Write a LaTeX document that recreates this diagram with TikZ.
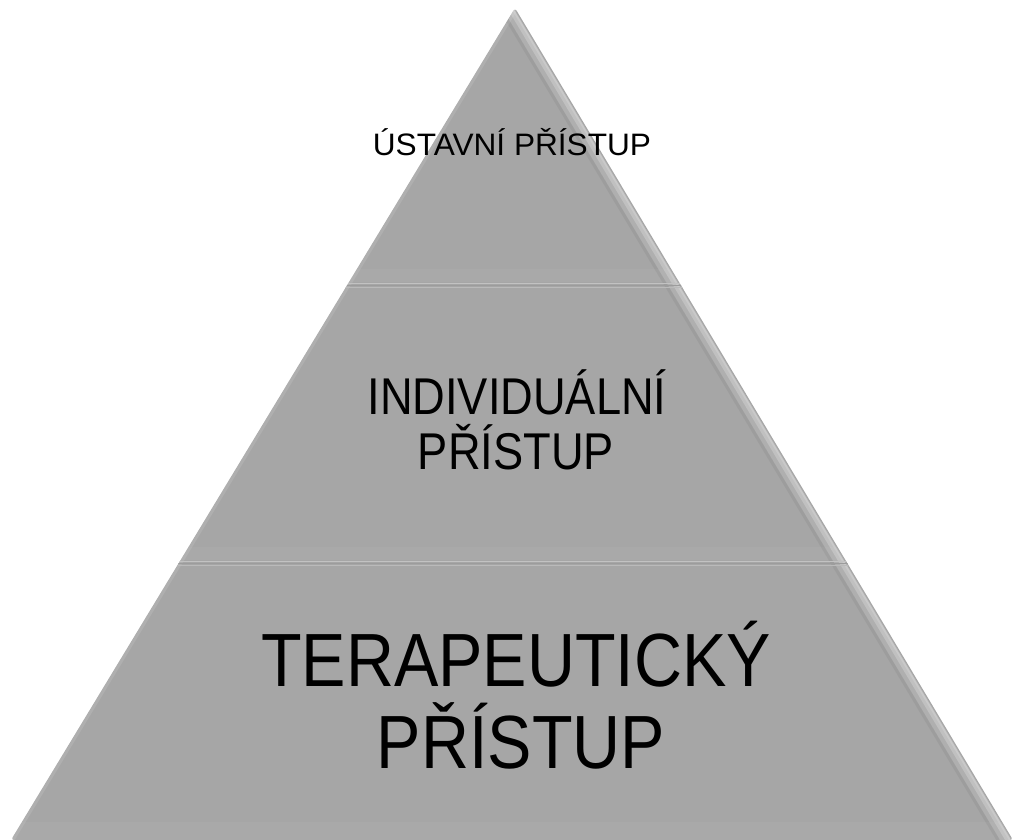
\documentclass[tikz,border=0pt]{standalone}
\usepackage{fontspec}
\setmainfont{Liberation Sans}
\usetikzlibrary{calc}
\definecolor{pyr}{HTML}{A6A6A6}
\definecolor{groovelight}{HTML}{C2C2C2}
\definecolor{groovedark}{HTML}{9C9C9C}
\tikzset{
  lbl/.style={anchor=base, inner sep=0pt, text=black},
  hi/.style={white, line cap=round},
}
\newcommand{\lblA}[1]{\fontsize{31}{31}\selectfont\scalebox{1.02}[1]{#1}}
\newcommand{\lblB}[1]{\fontsize{51.7}{52}\selectfont\scalebox{0.875}[1]{#1}}
\newcommand{\lblC}[1]{\fontsize{75.4}{76}\selectfont\scalebox{0.882}[1]{#1}}
\begin{document}
\begin{tikzpicture}[x=1pt,y=-1pt]
\useasboundingbox (0,0) rectangle (1015,840);
\coordinate (apex) at (515,8);
\coordinate (bl) at (11,840);
\coordinate (br) at (1013,840);
\fill[pyr, rounded corners=3pt] (apex) -- (br) -- (bl) -- cycle;
\begin{scope}
  \clip (apex) -- (br) -- (bl) -- cycle;
  % right edge bevel highlight (inside the edge)
  \draw[hi, opacity=0.10, line width=10] (508,8) -- (1006,840);
  \draw[hi, opacity=0.22, line width=5] (510,8) -- (1008,840);
  \draw[hi, opacity=0.15, line width=2] (512,8) -- (1010,840);
  \draw[black, opacity=0.05, line width=3] (500,8) -- (998,840);
  % left edge faint highlight
  \draw[hi, opacity=0.10, line width=3] (517,8) -- (13,840);
  % separators (grooves)
  \foreach \yy in {285,563}{
    \fill[white, opacity=0.035] (0,\yy-16) rectangle (1015,\yy-3);
    \draw[groovelight, line width=1.6] (0,\yy-1.5) -- (1015,\yy-1.5);
    \draw[groovedark, line width=1.2] (0,\yy+0.5) -- (1015,\yy+0.5);
    \draw[groovelight!70!pyr, line width=1.2] (0,\yy+2.3) -- (1015,\yy+2.3);
  }
  \fill[white, opacity=0.035] (0,822) rectangle (1015,840);
\end{scope}
\node[lbl] (t1) at (512,156) {\lblA{ÚSTAVNÍ PŘÍSTUP}};
\node[lbl] (t2a) at (517,414) {\lblB{INDIVIDUÁLNÍ}};
\node[lbl] (t2b) at (516,469) {\lblB{PŘÍSTUP}};
\node[lbl] (t3a) at (516,686) {\lblC{TERAPEUTICKÝ}};
\node[lbl] (t3b) at (521,768) {\lblC{PŘÍSTUP}};
\end{tikzpicture}
\end{document}
